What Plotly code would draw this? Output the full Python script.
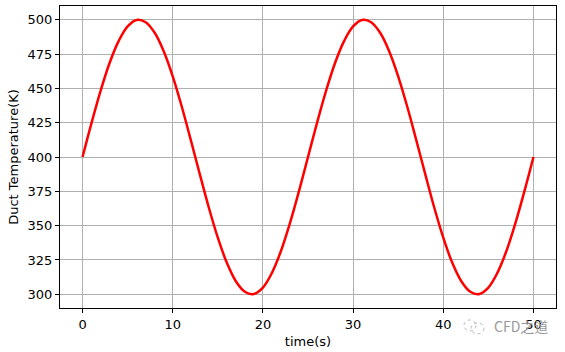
import plotly.graph_objects as go

# time (s) and duct temperature (K)
time_s = list(range(0, 51))
temp_k = [
    400.0, 424.9, 448.2, 468.5, 484.4, 495.1, 499.8, 498.2, 490.5, 477.1,
    458.8, 436.8, 412.5, 387.5, 363.2, 341.2, 322.9, 309.5, 301.8, 300.2,
    304.9, 315.6, 331.5, 351.8, 375.1,
    400.0, 424.9, 448.2, 468.5, 484.4, 495.1, 499.8, 498.2, 490.5, 477.1,
    458.8, 436.8, 412.5, 387.5, 363.2, 341.2, 322.9, 309.5, 301.8, 300.2,
    304.9, 315.6, 331.5, 351.8, 375.1, 400.0,
]
x_ticks = [0, 10, 20, 30, 40, 50]
y_ticks = [300, 325, 350, 375, 400, 425, 450, 475, 500]

font = "DejaVu Sans"
W, H = 565, 352
ML, MR, MT, MB = 60, 9, 5, 43


def px(xp):
    return (xp - ML) / (W - ML - MR)


def py(yp):
    return (H - MB - yp) / (H - MT - MB)


fig = go.Figure()
fig.add_trace(go.Scatter(
    x=time_s, y=temp_k, mode="lines",
    line=dict(color="red", width=2.5, shape="spline", smoothing=1.0),
    showlegend=False,
))

axis_common = dict(
    showgrid=True, gridcolor="#b0b0b0", gridwidth=1,
    showline=True, linecolor="black", linewidth=1, mirror=True,
    ticks="outside", ticklen=4, tickwidth=1, tickcolor="black",
    zeroline=False,
    tickfont=dict(family=font, size=13, color="black"),
)

fig.update_layout(
    width=W, height=H,
    margin=dict(l=ML, r=MR, t=MT, b=MB),
    paper_bgcolor="white", plot_bgcolor="white",
    xaxis=dict(range=[-2.5, 52.5], tickvals=x_ticks,
               title=dict(text="time(s)", font=dict(family=font, size=13, color="black"), standoff=6),
               **axis_common),
    yaxis=dict(range=[290, 510], tickvals=y_ticks,
               title=dict(text="Duct Temperature(K)", font=dict(family=font, size=13, color="black"), standoff=6),
               **axis_common),
    annotations=[dict(
        text="CFD之道", x=px(550), y=py(327), xref="paper", yref="paper",
        showarrow=False, font=dict(family="Noto Sans CJK SC", size=14, color="#999999"),
        xanchor="right", yanchor="middle",
    )],
    shapes=[
        dict(type="circle", xref="paper", yref="paper",
             x0=px(464), x1=px(476), y0=py(332), y1=py(321),
             line=dict(color="#bbbbbb", width=1, dash="dot")),
        dict(type="circle", xref="paper", yref="paper",
             x0=px(471), x1=px(484), y0=py(335), y1=py(324),
             line=dict(color="#bbbbbb", width=1, dash="dot")),
    ],
)

fig.write_html("out.html")
